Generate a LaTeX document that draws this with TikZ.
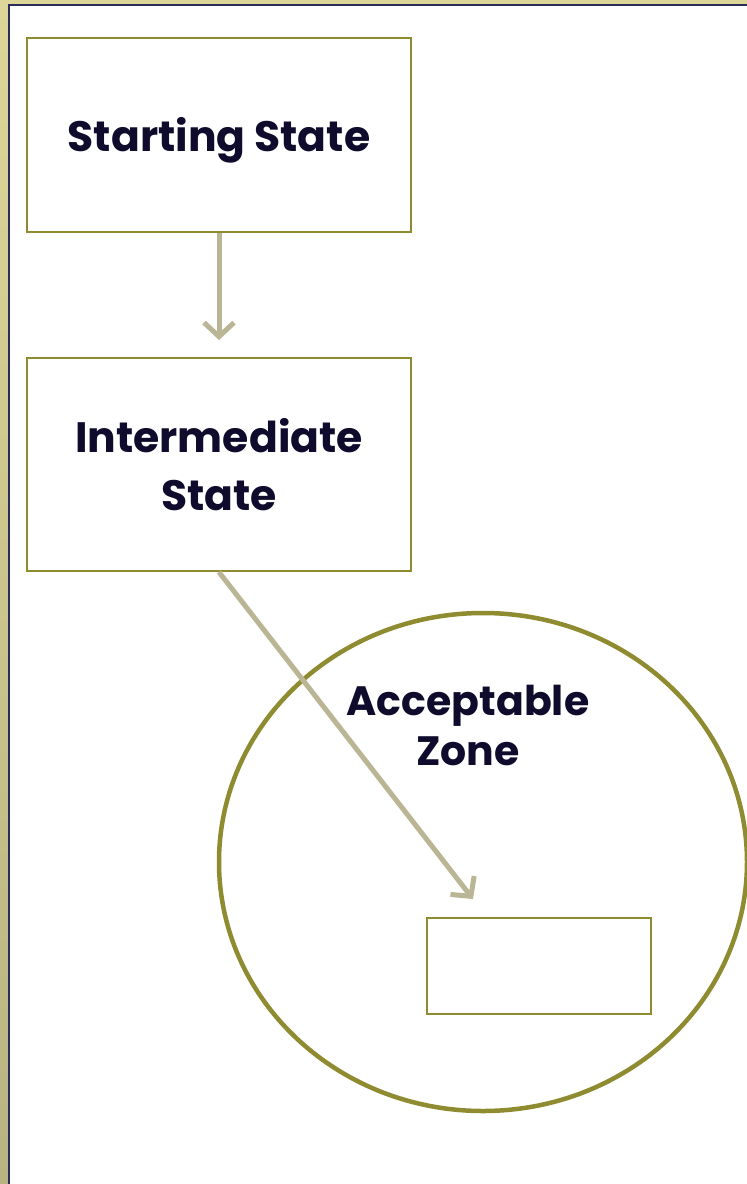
\documentclass[tikz,border=0pt]{standalone}
\usepackage{fontspec}
\setmainfont{Poppins}
\usetikzlibrary{arrows.meta}
\definecolor{txt}{HTML}{0E0B2C}
\definecolor{olive}{HTML}{8F8B30}
\definecolor{arr}{HTML}{BAB695}
\definecolor{navy}{HTML}{2A2C5A}
\definecolor{bandtop}{HTML}{DDD698}
\definecolor{bandbot}{HTML}{B8B482}
\begin{document}
\begin{tikzpicture}[x=1pt,y=-1pt,
  statebox/.style={draw=olive,line width=2.2pt,fill=white,minimum width=384pt,align=center,text=txt,font=\bfseries\fontsize{42.5}{58}\selectfont},
  labeltext/.style={align=center,text=txt,font=\bfseries\fontsize{42.5}{58}\selectfont},
  conn/.style={draw=arr,line width=5pt,-{Straight Barb[length=14pt,width=30pt,line width=5pt]}}]
\useasboundingbox (0,0) rectangle (747,1184);
% background
\fill[white] (0,0) rectangle (747,1184);
\shade[top color=bandtop,bottom color=bandbot] (0,0) rectangle (9,1184);
\fill[bandtop] (0,0) rectangle (747,4);
\draw[navy,line width=2pt] (9.2,1184) -- (9.2,4.8) -- (747,4.8);
% boxes
\node[statebox,minimum height=194pt] (start) at (219,135) {};
\node[labeltext] (startlbl) at ([yshift=-5pt]start.center) {Starting State};
\node[statebox,minimum height=213pt] (inter) at (219,464.5) {Intermediate\\State};
\draw[olive,line width=4.5pt] (483,862) ellipse [x radius=264, y radius=249];
\node[font=\bfseries\fontsize{41}{50}\selectfont,text=txt,align=center] (zone) at (468,725) {Acceptable\\Zone};
\node[draw=olive,line width=2.2pt,minimum width=224pt,minimum height=96pt] (goal) at (539,966) {};
\coordinate (a1) at (219,340);
\coordinate (a2) at (473,899);
\draw[conn] (start.south) -- (a1);
\draw[conn] (inter.south) -- (a2);
\end{tikzpicture}
\end{document}
